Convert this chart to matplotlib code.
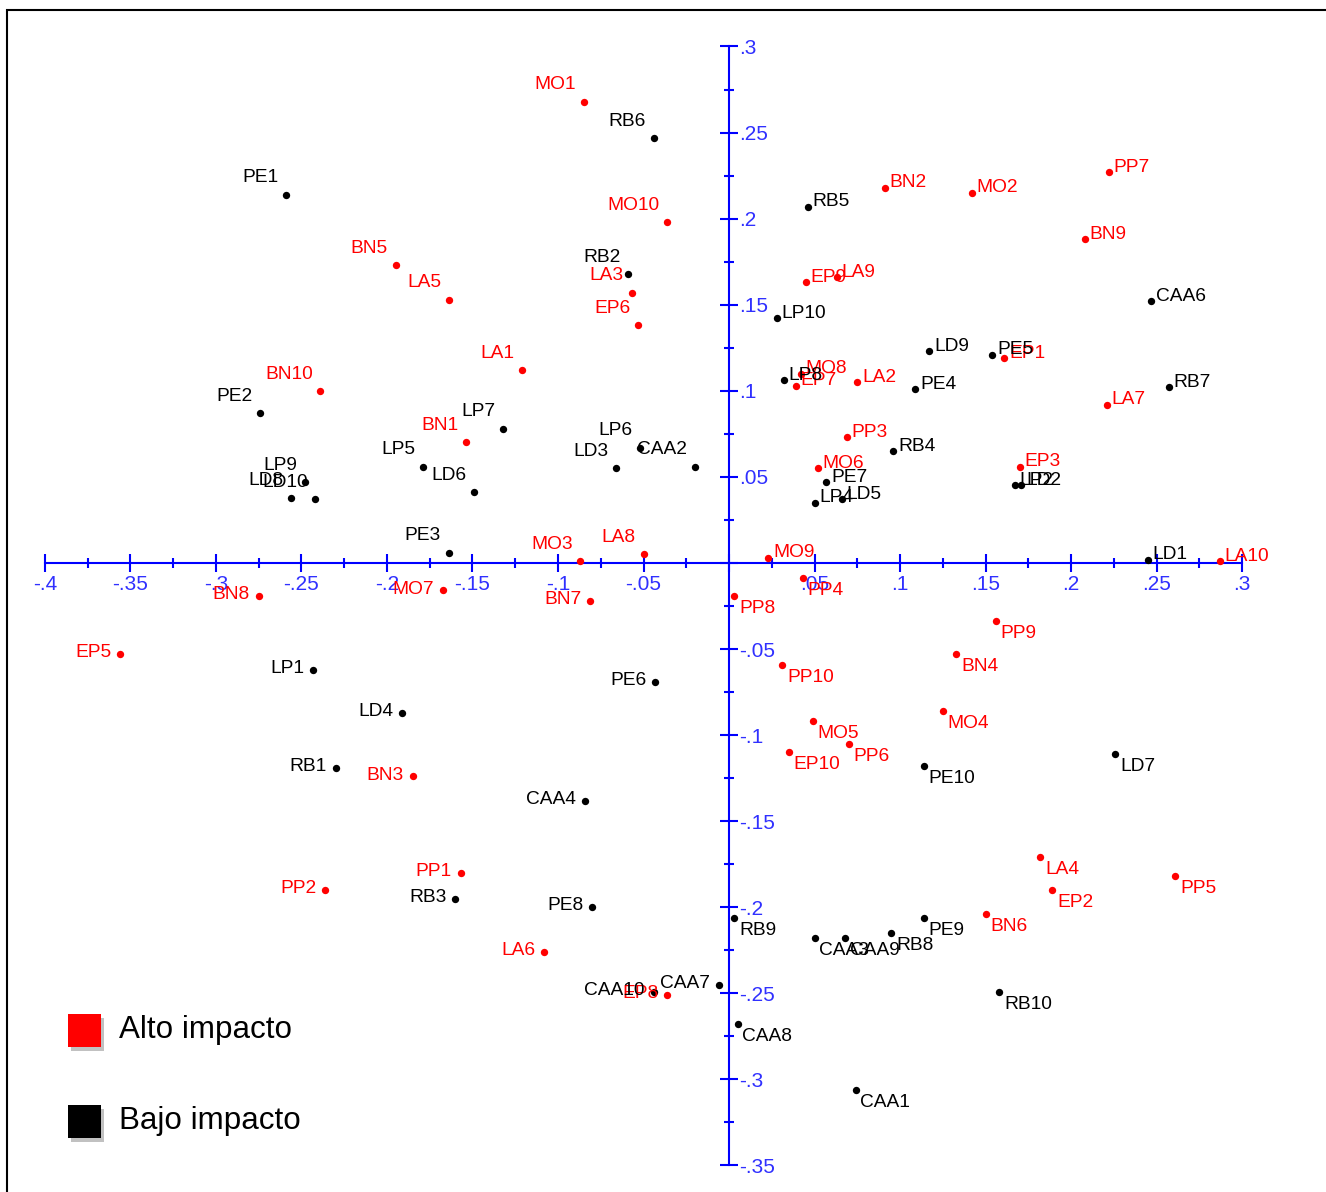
import matplotlib
matplotlib.use('Agg')
import matplotlib.pyplot as plt
import numpy as np
from matplotlib.patches import Rectangle
from matplotlib.ticker import FixedLocator, FuncFormatter

plt.rcParams['font.family'] = ['Liberation Sans', 'DejaVu Sans']

# Alto impacto (rojo)
alto_labels = ['MO1', 'MO10', 'BN5', 'LA5', 'LA3', 'EP6', 'LA1', 'BN10', 'BN1', 'LA8',
               'MO3', 'BN8', 'MO7', 'BN7', 'EP5', 'BN3', 'PP2', 'PP1', 'LA6', 'EP8',
               'MO9', 'MO6', 'PP3', 'PP4', 'PP8', 'PP10', 'MO5', 'PP6', 'EP10', 'MO4',
               'BN4', 'PP9', 'BN6', 'LA4', 'EP2', 'PP5', 'LA10', 'EP3', 'LA7', 'EP1',
               'BN9', 'PP7', 'MO2', 'BN2', 'LA9', 'EP9', 'LA2', 'EP7', 'MO8']
alto_x = [-0.085, -0.036, -0.195, -0.164, -0.057, -0.053, -0.121, -0.239, -0.154, -0.050,
          -0.087, -0.275, -0.167, -0.081, -0.356, -0.185, -0.236, -0.157, -0.108, -0.036,
          0.023, 0.052, 0.069, 0.043, 0.003, 0.031, 0.049, 0.070, 0.035, 0.125,
          0.133, 0.156, 0.150, 0.182, 0.189, 0.261, 0.287, 0.170, 0.221, 0.161,
          0.208, 0.222, 0.142, 0.091, 0.063, 0.045, 0.075, 0.039, 0.042]
alto_y = [0.268, 0.198, 0.173, 0.153, 0.157, 0.138, 0.112, 0.100, 0.070, 0.005,
          0.001, -0.019, -0.016, -0.022, -0.053, -0.124, -0.190, -0.180, -0.226, -0.251,
          0.003, 0.055, 0.073, -0.009, -0.019, -0.059, -0.092, -0.105, -0.110, -0.086,
          -0.053, -0.034, -0.204, -0.171, -0.190, -0.182, 0.001, 0.056, 0.092, 0.119,
          0.188, 0.227, 0.215, 0.218, 0.166, 0.163, 0.105, 0.103, 0.110]

# Bajo impacto (negro)
bajo_labels = ['RB6', 'PE1', 'RB2', 'PE2', 'LP7', 'LP6', 'CAA2', 'LD3', 'LP5', 'LD6',
               'LP9', 'LD8', 'LD10', 'PE3', 'LP1', 'LD4', 'RB1', 'RB3', 'CAA4', 'PE8',
               'PE6', 'CAA10', 'CAA7', 'RB9', 'CAA8', 'CAA1', 'CAA3', 'CAA9', 'RB8', 'PE9',
               'RB10', 'PE10', 'LD7', 'LD1', 'LD2', 'LP2', 'RB7', 'PE4', 'LD9', 'PE5',
               'CAA6', 'RB5', 'LP10', 'RB4', 'PE7', 'LP4', 'LD5', 'LP8']
bajo_x = [-0.044, -0.259, -0.059, -0.274, -0.132, -0.052, -0.020, -0.066, -0.179, -0.149,
          -0.248, -0.256, -0.242, -0.164, -0.243, -0.191, -0.230, -0.160, -0.084, -0.080,
          -0.043, -0.044, -0.006, 0.003, 0.005, 0.074, 0.050, 0.068, 0.095, 0.114,
          0.158, 0.114, 0.226, 0.245, 0.171, 0.167, 0.257, 0.109, 0.117, 0.154,
          0.247, 0.046, 0.028, 0.096, 0.057, 0.050, 0.066, 0.032]
bajo_y = [0.247, 0.214, 0.168, 0.087, 0.078, 0.067, 0.056, 0.055, 0.056, 0.041,
          0.047, 0.038, 0.037, 0.006, -0.062, -0.087, -0.119, -0.195, -0.138, -0.200,
          -0.069, -0.249, -0.245, -0.206, -0.268, -0.306, -0.218, -0.218, -0.215, -0.206,
          -0.249, -0.118, -0.111, 0.002, 0.045, 0.045, 0.102, 0.101, 0.123, 0.121,
          0.152, 0.207, 0.142, 0.065, 0.047, 0.035, 0.037, 0.106]

W, H = 1326, 1192
AZUL = '#0000ff'

fig = plt.figure(figsize=(W / 100, H / 100), dpi=100)
ax = fig.add_axes([0, 0, 1, 1])
ax.set_xlim(-0.4263, 0.3491)
ax.set_ylim(-0.3654, 0.3270)

# Ejes cruzados en el origen
for s in ['top', 'left']:
    ax.spines[s].set_visible(False)
ax.spines['right'].set_position(('data', 0))
ax.spines['bottom'].set_position(('data', 0))
ax.spines['right'].set_bounds(-0.35, 0.3)
ax.spines['bottom'].set_bounds(-0.4, 0.3)
for s in ['right', 'bottom']:
    ax.spines[s].set_color(AZUL)
    ax.spines[s].set_linewidth(1.5)
ax.xaxis.set_ticks_position('bottom')
ax.yaxis.set_ticks_position('right')

ax.xaxis.set_major_locator(FixedLocator(np.round(np.arange(-0.4, 0.301, 0.05), 3)))
ax.xaxis.set_minor_locator(FixedLocator(np.round(np.arange(-0.375, 0.3, 0.05), 3)))
ax.yaxis.set_major_locator(FixedLocator(np.round(np.arange(-0.35, 0.301, 0.05), 3)))
ax.yaxis.set_minor_locator(FixedLocator(np.round(np.arange(-0.325, 0.3, 0.05), 3)))


def fmt(v, pos):
    if abs(v) < 1e-9:
        return ''
    return f'{v:.2f}'.rstrip('0').replace('0.', '.')


ax.xaxis.set_major_formatter(FuncFormatter(fmt))
ax.yaxis.set_major_formatter(FuncFormatter(fmt))
ax.tick_params(which='major', direction='inout', length=13, width=1.5, color=AZUL,
               labelcolor='#3030ff', labelsize=15)
ax.tick_params(which='minor', direction='inout', length=7, width=1.5, color=AZUL)
ax.tick_params(axis='x', which='major', pad=2)
ax.tick_params(axis='y', which='major', pad=1)

ax.scatter(alto_x, alto_y, s=28, color='#ff0000', zorder=3, linewidths=0)
ax.scatter(bajo_x, bajo_y, s=28, color='black', zorder=3, linewidths=0)


def etiquetar(labels, xs, ys, color):
    for lab, x, y in zip(labels, xs, ys):
        if x < 0 and y >= 0:
            off, ha = (-5.5, 12), 'right'
        elif x < 0:
            off, ha = (-6.5, 1), 'right'
        elif y >= 0:
            off, ha = (3.5, 3.5), 'left'
        else:
            off, ha = (3.5, -9), 'left'
        ax.annotate(lab, (x, y), xytext=off, textcoords='offset points', ha=ha,
                    va='center', color=color, fontsize=13.8, zorder=4)


etiquetar(alto_labels, alto_x, alto_y, '#ff0000')
etiquetar(bajo_labels, bajo_x, bajo_y, 'black')

# Leyenda
for yc, color, texto in [(1031, '#ff0000', 'Alto impacto'), (1122, 'black', 'Bajo impacto')]:
    sombra = Rectangle(((68 + 3) / W, 1 - (yc + 16 + 4) / H), 33 / W, 33 / H,
                       transform=fig.transFigure, color='#999999', alpha=0.6, lw=0)
    caja = Rectangle((68 / W, 1 - (yc + 16) / H), 33 / W, 33 / H,
                     transform=fig.transFigure, color=color, lw=0)
    fig.add_artist(sombra)
    fig.add_artist(caja)
    fig.text(119 / W, 1 - (yc - 1) / H, texto, fontsize=22.6, va='center', ha='left')

# Marco exterior
fig.add_artist(Rectangle((7 / W, -0.05), 1.1, (H - 10) / H + 0.05, transform=fig.transFigure,
                         fill=False, lw=1.5, edgecolor='black'))

fig.savefig('out.png', dpi=100)
